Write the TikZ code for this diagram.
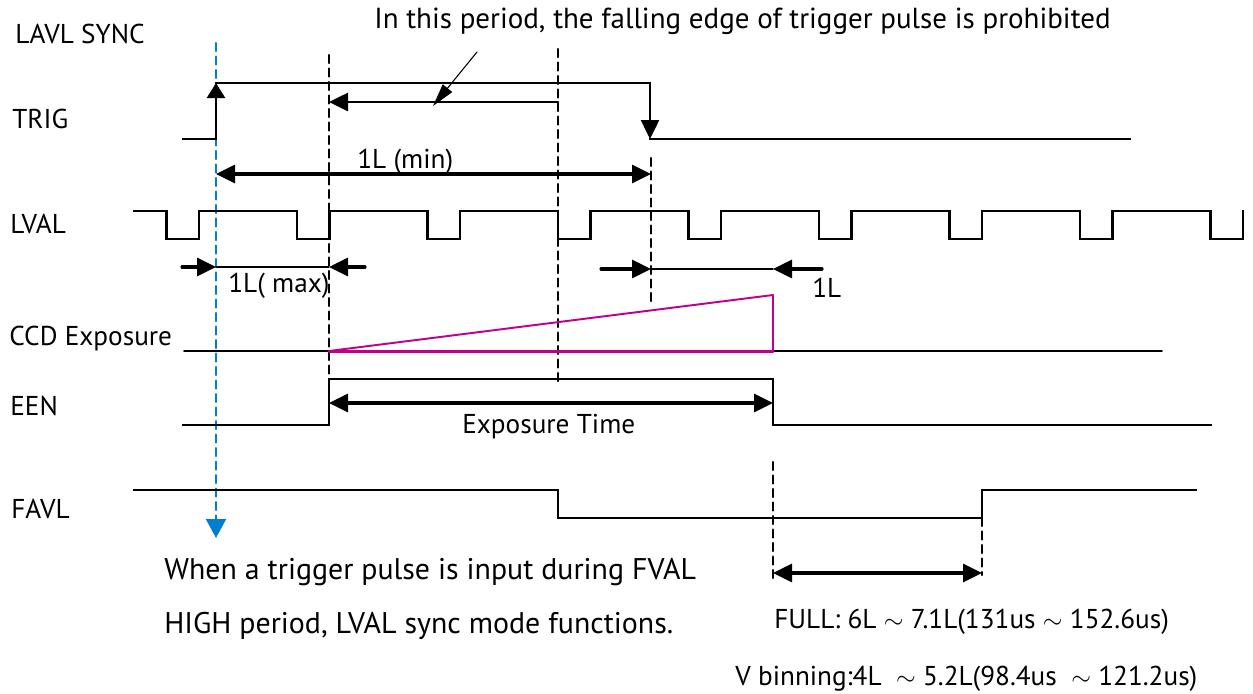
\documentclass[tikz,border=0pt]{standalone}
\usepackage{fontspec}
\setmainfont{PT Sans}
\usepackage{tkz-euclide}
\usetikzlibrary{arrows.meta}
\definecolor{syncblue}{RGB}{0,128,204}
\definecolor{ccdpink}{RGB}{192,0,140}
\tikzset{
  wave/.style={line width=1.4pt,line cap=rect},
  fine/.style={line width=0.6pt},
  guide/.style={line width=1.2pt,dash pattern=on 1.6mm off 1.1mm},
  dim/.style={line width=1.8pt,>={Triangle[length=3.8mm,width=3.6mm]}},
  lbl/.style={anchor=base west,font=\fontsize{15.5}{18}\selectfont,inner sep=0pt},
  note/.style={anchor=base west,font=\fontsize{16.5}{19}\selectfont,inner sep=0pt},
  big/.style={anchor=base west,font=\fontsize{17}{20}\selectfont,inner sep=0pt}
}
\begin{document}
\begin{tikzpicture}[x=0.2mm,y=-0.2mm]
  \useasboundingbox (0,0) rectangle (1253,693);
  % edges
  \tkzDefPoints{183/139/T0,216/139/T1,216/83/T2,650/83/T3,650/139/T4,1130/139/T5}
  \tkzDefPoints{216/43/S0,216/538/S1,329/55/A0,329/425/A1,558/49/B0,558/383/B1}
  \tkzDefPoints{651/158/C0,651/305/C1,773/462/E0,773/582/E1,982/518/F0,982/575/F1}
  % dimension ends
  \tkzDefPoints{558/102/P0,329/102/P1,477/52/Q0,433/106/Q1}
  \tkzDefPoints{216/174/M0,651/174/M1,182/267/L0,216/267/L1,329/267/L2,365/267/L3}
  \tkzDefPoints{601/269/R0,651/269/R1,773/269/R2,822/269/R3}
  \tkzDefPoints{329/403/X0,773/403/X1,773/573/Y0,982/573/Y1}
  \tkzDefPoints{184/351/K0,1162/351/K1,329/351/G0,773/295/G1,773/351/G2}
  \tkzDrawSegments[guide,syncblue,-{Triangle[length=3.8mm,width=4mm,fill=syncblue]}](S0,S1)
  \tkzDrawSegments[guide](A0,A1 B0,B1 C0,C1 E0,E1 F0,F1)
  % TRIG
  \tkzDrawPolySeg[wave](T0,T1)
  \tkzDrawSegment[wave,-{Triangle[length=3mm,width=3.6mm]}](T1,T2)
  \tkzDrawPolySeg[wave](T2,T3)
  \tkzDrawSegment[wave,-{Triangle[length=3.8mm,width=3.6mm]}](T3,T4)
  \tkzDrawPolySeg[wave](T4,T5)
  \tkzDrawSegment[dim,->,line width=1.5pt](P0,P1)
  \tkzDrawSegment[fine,-{Triangle[length=4.6mm,width=2.4mm]}](Q0,Q1)
  \tkzDrawSegment[dim,<->](M0,M1)
  % LVAL
  \draw[wave] (134,211) -- ++(32.5,0)
    -- ++(0,28) -- ++(32.5,0) -- ++(0,-28) -- ++(98,0)
    -- ++(0,28) -- ++(32.5,0) -- ++(0,-28) -- ++(98,0)
    -- ++(0,28) -- ++(32.5,0) -- ++(0,-28) -- ++(98,0)
    -- ++(0,28) -- ++(32.5,0) -- ++(0,-28) -- ++(98,0)
    -- ++(0,28) -- ++(32.5,0) -- ++(0,-28) -- ++(98,0)
    -- ++(0,28) -- ++(32.5,0) -- ++(0,-28) -- ++(98,0)
    -- ++(0,28) -- ++(32.5,0) -- ++(0,-28) -- ++(98,0)
    -- ++(0,28) -- ++(32.5,0) -- ++(0,-28) -- ++(98,0)
    -- ++(0,28) -- ++(32.5,0) -- ++(0,-28);
  \tkzDrawSegments[dim,->](L0,L1 L3,L2 R0,R1 R3,R2)
  \tkzDrawSegments[fine](L1,L2 R1,R2)
  % CCD Exposure
  \tkzDrawSegment[line width=1pt](K0,K1)
  \tkzDrawPolygon[ccdpink,line width=1.1pt](G0,G1,G2)
  \tkzDrawSegment[ccdpink,line width=1.7pt](G0,G2)
  % EEN
  \draw[wave] (183,425) -- (329,425) -- (329,379) -- (773,379) -- (773,425) -- (1211,425);
  \tkzDrawSegment[dim,<->](X0,X1)
  % FAVL
  \draw[wave] (134,490) -- (558,490) -- (558,518) -- (982,518) -- (982,490) -- (1196,490);
  \tkzDrawSegment[dim,<->](Y0,Y1)
  % texts
  \node[lbl] (lblSync) at (15,43) {LAVL SYNC};
  \node[lbl] (lblTrig) at (12,128) {TRIG};
  \node[lbl] (lblLval) at (10,233) {LVAL};
  \node[lbl] (lblCcd) at (9,345) {CCD Exposure};
  \node[lbl] (lblEen) at (10,415) {EEN};
  \node[lbl] (lblFavl) at (11,518) {FAVL};
  \node[note] (txtTitle) at (374,28) {In this period, the falling edge of trigger pulse is prohibited};
  \node[lbl] (txtMin) at (357,168) {1L (min)};
  \node[lbl] (txtMax) at (228,292) {1L( max)};
  \node[lbl] (txtOneL) at (812,297) {1L};
  \node[lbl] (txtExp) at (462,433) {Exposure Time};
  \node[big] (txtWhen) at (164,579) {When a trigger pulse is input during FVAL};
  \node[big] (txtHigh) at (164,633) {HIGH period, LVAL sync mode functions.};
  \node[lbl] (txtFull) at (774,628) {FULL: 6L ${\sim}$ 7.1L(131us ${\sim}$ 152.6us)};
  \node[lbl] (txtBin) at (735,685) {V binning:4L \ ${\sim}$ 5.2L(98.4us \ ${\sim}$ 121.2us)};
\end{tikzpicture}
\end{document}
